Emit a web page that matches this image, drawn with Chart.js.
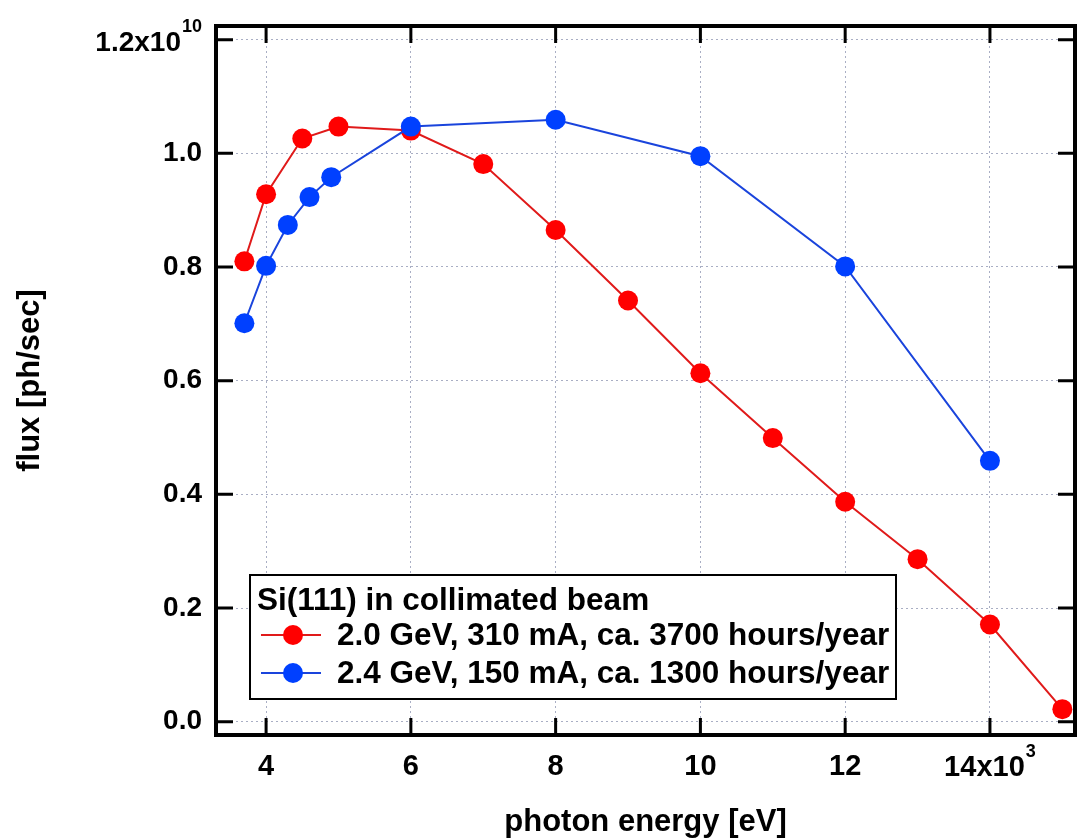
<!DOCTYPE html>
<html>
<head>
<meta charset="utf-8">
<title>flux vs photon energy</title>
<script src="https://cdn.jsdelivr.net/npm/chart.js@4/dist/chart.umd.min.js"></script>
<style>
  body { margin: 0; background: #fff; }
  canvas { display: block; }
</style>
</head>
<body>
<canvas id="fluxchart" width="1077" height="839"></canvas>
<script>
// photon energy in eV, flux in ph/sec
const energy20 = [3700, 4000, 4500, 5000, 6000, 7000, 8000, 9000, 10000, 11000, 12000, 13000, 14000, 15000]
const flux20 = [0.810e10, 0.928e10, 1.026e10, 1.047e10, 1.040e10, 0.981e10, 0.865e10, 0.741e10, 0.613e10, 0.499e10, 0.387e10, 0.286e10, 0.171e10, 0.022e10]

const energy24 = [3700, 4000, 4300, 4600, 4900, 6000, 8000, 10000, 12000, 14000]
const flux24 = [0.701e10, 0.802e10, 0.874e10, 0.923e10, 0.958e10, 1.047e10, 1.059e10, 0.995e10, 0.801e10, 0.459e10]

const xTicks = [4000, 6000, 8000, 10000, 12000, 14000]
const yTicks = [0, 0.2e10, 0.4e10, 0.6e10, 0.8e10, 1.0e10, 1.2e10]

const legendTitle = 'Si(111) in collimated beam'
const label20 = '2.0 GeV, 310 mA, ca. 3700 hours/year'
const label24 = '2.4 GeV, 150 mA, ca. 1300 hours/year'

const fontFamily = "'Liberation Sans', Arial, sans-serif"
Chart.defaults.font.family = fontFamily
Chart.defaults.color = '#000'

function pairs(xs, ys) {
    return xs.map((x, i) => ({ x: x, y: ys[i] }))
}

// mantissa plus raised exponent, e.g. 14x10 with a small 3
function drawPower(ctx, text, exp, x, base, size, align) {
    ctx.font = 'bold ' + size + 'px ' + fontFamily
    const w1 = ctx.measureText(text).width
    ctx.font = 'bold 18px ' + fontFamily
    const w2 = ctx.measureText(exp).width
    let x0 = align === 'right' ? x - w1 - w2 - 1 : x - (w1 + w2 + 1) / 2
    ctx.textAlign = 'left'
    ctx.textBaseline = 'alphabetic'
    ctx.font = 'bold ' + size + 'px ' + fontFamily
    ctx.fillText(text, x0, base)
    ctx.font = 'bold 18px ' + fontFamily
    ctx.fillText(exp, x0 + w1 + 1, base - 19)
}

// box around the plot, inward ticks on all four sides, exponent labels and the boxed legend
const frameAndLegend = {
    id: 'frameAndLegend',
    afterDatasetsDraw(chart) {
        const ctx = chart.ctx
        const a = chart.chartArea
        const xs = chart.scales.x, ys = chart.scales.y
        const tl = 17
        ctx.save()
        ctx.strokeStyle = '#000'
        ctx.lineWidth = 3
        ctx.beginPath()
        xTicks.forEach(v => {
            const px = xs.getPixelForValue(v)
            ctx.moveTo(px, a.bottom); ctx.lineTo(px, a.bottom - tl)
            ctx.moveTo(px, a.top); ctx.lineTo(px, a.top + tl)
        })
        yTicks.forEach(v => {
            const py = ys.getPixelForValue(v)
            ctx.moveTo(a.left, py); ctx.lineTo(a.left + tl, py)
            ctx.moveTo(a.right, py); ctx.lineTo(a.right - tl, py)
        })
        ctx.stroke()
        ctx.lineWidth = 4
        ctx.strokeRect(a.left, a.top, a.right - a.left, a.bottom - a.top)

        // last tick labels carry the power of ten
        ctx.fillStyle = '#000'
        const yTop = yTicks[yTicks.length - 1]
        drawPower(ctx, (yTop / 1e10).toFixed(1) + 'x10', '10', a.left - 14, ys.getPixelForValue(yTop) + 11, 28, 'right')
        const xLast = xTicks[xTicks.length - 1]
        drawPower(ctx, (xLast / 1000) + 'x10', '3', xs.getPixelForValue(xLast), a.bottom + 41, 29, 'center')

        // legend
        const lx = a.left + 34, ly = a.top + 549, lw = 646, lh = 124
        ctx.fillStyle = '#fff'
        ctx.fillRect(lx, ly, lw, lh)
        ctx.lineWidth = 2
        ctx.strokeRect(lx, ly, lw, lh)
        ctx.fillStyle = '#000'
        ctx.font = 'bold 31.5px ' + fontFamily
        ctx.textBaseline = 'alphabetic'
        ctx.textAlign = 'left'
        ctx.fillText(legendTitle, lx + 7, ly + 35)
        chart.data.datasets.forEach((ds, i) => {
            const base = ly + 70 + i * 38
            const my = base - 10
            ctx.strokeStyle = ds.borderColor
            ctx.lineWidth = 2
            ctx.beginPath()
            ctx.moveTo(lx + 11, my); ctx.lineTo(lx + 71, my)
            ctx.stroke()
            ctx.fillStyle = ds.pointBackgroundColor
            ctx.beginPath()
            ctx.arc(lx + 43, my, 10, 0, Math.PI * 2)
            ctx.fill()
            ctx.fillStyle = '#000'
            ctx.fillText(ds.label, lx + 87, base)
        })
        ctx.restore()
    }
}

new Chart(document.getElementById('fluxchart'), {
    type: 'line',
    data: {
        datasets: [{
            label: label20,
            data: pairs(energy20, flux20),
            borderColor: '#e01a1a',
            borderWidth: 2,
            pointBackgroundColor: '#ff0000',
            pointBorderWidth: 0,
            pointRadius: 10,
            order: 1
        }, {
            label: label24,
            data: pairs(energy24, flux24),
            borderColor: '#1a44dc',
            borderWidth: 2,
            pointBackgroundColor: '#0040ff',
            pointBorderWidth: 0,
            pointRadius: 10,
            order: 0
        }]
    },
    options: {
        responsive: false,
        animation: false,
        devicePixelRatio: 1,
        layout: { autoPadding: false, padding: { top: 26, right: 2, bottom: 0, left: 0 } },
        plugins: {
            legend: { display: false },
            tooltip: { enabled: false }
        },
        scales: {
            x: {
                type: 'linear',
                min: 3308,
                max: 15175,
                afterBuildTicks: s => { s.ticks = xTicks.map(v => ({ value: v })) },
                afterFit: s => { s.height = 104; s.paddingLeft = 0; s.paddingRight = 0 },
                grid: { color: '#a9aec4', lineWidth: 1, drawTicks: false },
                border: { display: false, dash: [2, 3] },
                ticks: {
                    padding: 15,
                    maxRotation: 0,
                    font: { size: 29, weight: 'bold' },
                    callback: (v, i, t) => i === t.length - 1 ? '' : String(v / 1000)
                },
                title: {
                    display: true,
                    text: 'photon energy [eV]',
                    font: { size: 31, weight: 'bold', lineHeight: 1 },
                    padding: { top: 0, bottom: 1 }
                }
            },
            y: {
                type: 'linear',
                min: -0.0234e10,
                max: 1.224e10,
                afterBuildTicks: s => { s.ticks = yTicks.map(v => ({ value: v })) },
                afterFit: s => { s.width = 216; s.paddingTop = 0; s.paddingBottom = 0 },
                grid: { color: '#a9aec4', lineWidth: 1, drawTicks: false },
                border: { display: false, dash: [2, 3] },
                ticks: {
                    padding: 14,
                    font: { size: 28, weight: 'bold' },
                    callback: (v, i, t) => i === t.length - 1 ? '' : (v / 1e10).toFixed(1)
                },
                title: {
                    display: true,
                    text: 'flux [ph/sec]',
                    font: { size: 31, weight: 'bold', lineHeight: 1 },
                    padding: { top: 15, bottom: 0 }
                }
            }
        }
    },
    plugins: [frameAndLegend]
});
</script>
</body>
</html>
